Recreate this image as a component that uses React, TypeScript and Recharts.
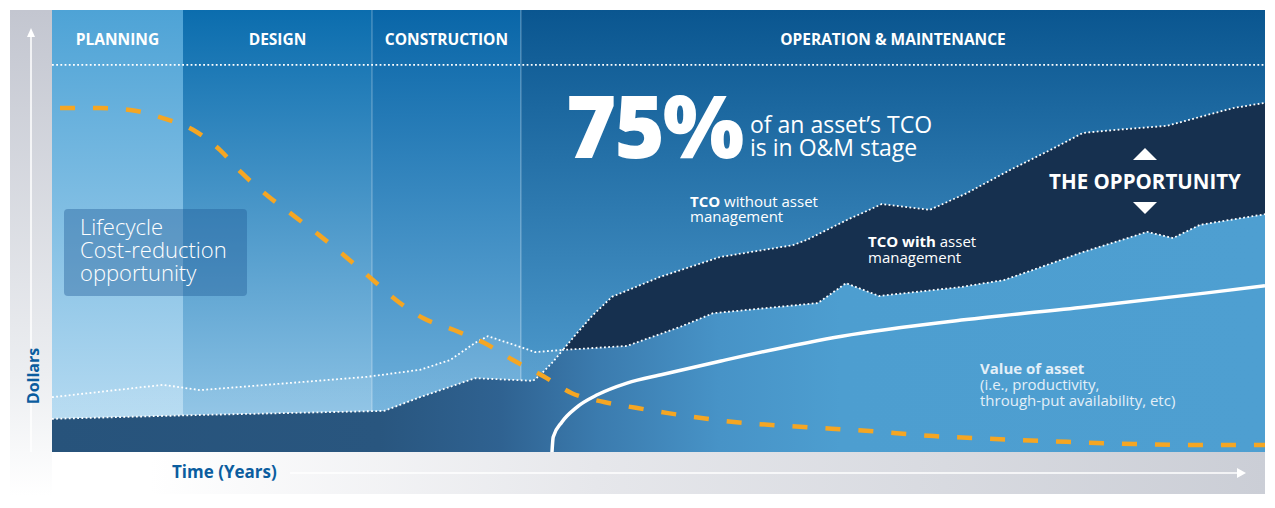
import React from "react";
import {
  ComposedChart, Area, Line, XAxis, YAxis, ReferenceArea, ReferenceLine, Label
} from "recharts";

const FONT = '"Open Sans", "Noto Sans", sans-serif';
const W = 1259;
const H = 492;

// phases along the time axis (years)
const phaseNames = ["PLANNING", "DESIGN", "CONSTRUCTION", "OPERATION & MAINTENANCE"];
const phaseStarts = [0, 5.4, 13.19, 19.33];
const phaseEnds = [5.4, 13.19, 19.33, 50];

// [years, dollars]
const lifecycleCost = [
  [0.33, 77.8], [1.98, 77.8], [3.22, 77.4], [4.53, 75.6], [5.81, 72.9], [6.93, 68.3],
  [7.79, 63.3], [8.86, 58.1], [9.93, 53.6], [11.05, 48.9], [12.08, 44.3], [13.19, 39.1],
  [14.18, 34.4], [15.29, 30.3], [16.57, 27.6], [17.81, 24.7], [19.0, 20.8], [20.24, 17.2],
  [21.43, 13.3], [22.75, 11.3], [24.07, 10.0], [25.39, 8.8], [28.11, 6.8], [30.83, 5.7],
  [33.55, 4.8], [36.36, 3.6], [39.08, 2.9], [41.84, 2.3], [44.6, 1.8], [47.32, 1.6], [50, 1.6]
];

const tcoWithout = [
  [0, 12.4], [4.58, 15.2], [6.1, 14.0], [12.98, 17.0], [15.17, 18.6], [16.41, 20.8],
  [17.44, 24.7], [17.97, 26.2], [19.29, 23.8], [19.91, 22.6], [21.06, 23.1], [21.64, 26.9],
  [22.3, 31.0], [23.08, 35.1], [25.06, 39.6], [27.53, 44.1], [30.54, 46.8], [31.12, 48.0],
  [32.77, 52.5], [34.21, 56.1], [36.19, 54.8], [37.72, 58.6], [39.49, 63.8], [41.14, 68.3],
  [42.5, 72.2], [43.9, 72.9], [45.96, 73.8], [47.32, 75.8], [48.68, 77.8], [50, 79.0]
];

const tcoWith = [
  [0, 7.5], [6.27, 8.4], [13.69, 9.3], [15.17, 12.4], [17.44, 16.7], [19.83, 16.1],
  [20.12, 17.4], [20.65, 20.4], [21.06, 23.1], [23.7, 24.0], [25.89, 28.3], [27.25, 31.4],
  [31.57, 33.7], [32.73, 38.2], [34.09, 35.3], [37.43, 37.3], [39.24, 38.9], [40.44, 41.2],
  [42.37, 45.0], [45.14, 49.8], [46.21, 48.4], [47.32, 51.4], [50, 53.8]
];

const assetValue = [
  [20.61, 0], [20.66, 3.4], [21.02, 6.8], [21.6, 10.0], [22.5, 13.0], [23.7, 15.6],
  [25.2, 17.6], [27.58, 20.6], [32.56, 26.2], [37.59, 29.9], [42.58, 32.8], [47.61, 36.0], [50, 37.6]
];

const toRows = (pts: number[][]) => pts.map(([x, y]) => ({ x, y }));

const PHASE_FILLS = ["url(#gPlan)", "url(#gDesign)", "url(#gConst)", "url(#gOM)"];
const HEADER_LINE = 87.6;
const DOTS = "1.8 2.4";

export default function App() {
  return (
    <div style={{ position: "relative", width: W, height: H, fontFamily: FONT }}>
      {/* axis strips behind the chart */}
      <svg width={W} height={H} style={{ position: "absolute", left: 0, top: 0 }}>
        <defs>
          <linearGradient id="stripL" x1="0" y1="0" x2="0" y2="1">
            <stop offset="0" stopColor="#c3c6d0" />
            <stop offset="0.75" stopColor="#eceef1" />
            <stop offset="1" stopColor="#ffffff" />
          </linearGradient>
          <linearGradient id="stripB" x1="0" y1="0" x2="1" y2="0">
            <stop offset="0" stopColor="#ffffff" />
            <stop offset="0.4" stopColor="#e6e7eb" />
            <stop offset="1" stopColor="#cbced6" />
          </linearGradient>
        </defs>
        <g transform="translate(-8,-8)">
          <rect x={10} y={10} width={42} height={486} fill="url(#stripL)" />
          <rect x={150} y={452} width={1115} height={42} fill="url(#stripB)" />
        </g>
      </svg>

      <div style={{ position: "absolute", left: 0, top: 0 }}>
        <ComposedChart width={W} height={H} margin={{ top: 2, right: 2, bottom: 48, left: 44 }}>
          <defs>
            <linearGradient id="gPlan" x1="0" y1="0" x2="0" y2="1">
              <stop offset="0" stopColor="#4ea3d6" />
              <stop offset="1" stopColor="#bcdef3" />
            </linearGradient>
            <linearGradient id="gDesign" x1="0" y1="0" x2="0" y2="1">
              <stop offset="0" stopColor="#0b6dae" />
              <stop offset="1" stopColor="#96c9e9" />
            </linearGradient>
            <linearGradient id="gConst" x1="0" y1="0" x2="0" y2="1">
              <stop offset="0" stopColor="#0966a8" />
              <stop offset="1" stopColor="#78b7e0" />
            </linearGradient>
            <linearGradient id="gOM" x1="0" y1="0" x2="0" y2="1">
              <stop offset="0" stopColor="#0a5690" />
              <stop offset="1" stopColor="#5aa6d7" />
            </linearGradient>
            <linearGradient id="gUpper" x1="0" y1="0" x2="1" y2="0">
              <stop offset="0" stopColor="#ffffff" stopOpacity={0.07} />
              <stop offset="0.421" stopColor="#ffffff" stopOpacity={0.07} />
              <stop offset="0.421" stopColor="#16304f" stopOpacity={1} />
              <stop offset="1" stopColor="#16304f" stopOpacity={1} />
            </linearGradient>
            <linearGradient id="gLower" x1="0" y1="0" x2="1" y2="0">
              <stop offset="0" stopColor="#27537b" />
              <stop offset="0.27" stopColor="#29567f" />
              <stop offset="0.37" stopColor="#2f6291" />
              <stop offset="0.45" stopColor="#3b7bae" />
              <stop offset="0.55" stopColor="#4793c7" />
              <stop offset="0.65" stopColor="#4d9ed0" />
              <stop offset="1" stopColor="#4e9fd1" />
            </linearGradient>
          </defs>
          <XAxis type="number" dataKey="x" domain={[0, 50]} hide allowDataOverflow />
          <YAxis type="number" dataKey="y" domain={[0, 100]} hide allowDataOverflow />

          {phaseNames.map((name, i) => (
            <ReferenceArea
              key={name}
              x1={phaseStarts[i]}
              x2={phaseEnds[i]}
              fill={PHASE_FILLS[i]}
              fillOpacity={1}
              stroke="none"
              ifOverflow="extendDomain"
              zIndex={-20}
            >
              <Label
                value={name}
                position="insideTop"
                offset={24}
                fill="#ffffff"
                fontSize={15.5}
                fontWeight={700}
                fontFamily={FONT}
              />
            </ReferenceArea>
          ))}
          {phaseStarts.slice(2).map((s) => (
            <ReferenceLine key={s} x={s} stroke="#ffffff" strokeOpacity={0.35} zIndex={-10} />
          ))}
          <ReferenceLine y={HEADER_LINE} stroke="#ffffff" strokeWidth={1.8} strokeDasharray={DOTS} zIndex={-10} />

          <Area
            data={toRows(tcoWithout)}
            dataKey="y"
            type="linear"
            stroke="#ffffff"
            strokeWidth={1.8}
            strokeDasharray={DOTS}
            fill="url(#gUpper)"
            fillOpacity={1}
            isAnimationActive={false}
          />
          <Area
            data={toRows(tcoWith)}
            dataKey="y"
            type="linear"
            stroke="#ffffff"
            strokeWidth={1.8}
            strokeDasharray={DOTS}
            fill="url(#gLower)"
            fillOpacity={1}
            isAnimationActive={false}
          />
          <Line
            data={toRows(assetValue)}
            dataKey="y"
            type="monotone"
            stroke="#ffffff"
            strokeWidth={3.5}
            dot={false}
            isAnimationActive={false}
          />
          <Line
            data={toRows(lifecycleCost)}
            dataKey="y"
            type="monotone"
            stroke="#f5a623"
            strokeWidth={4.5}
            strokeDasharray="15 18"
            dot={false}
            isAnimationActive={false}
          />
        </ComposedChart>
      </div>

      {/* annotations */}
      <svg width={W} height={H} style={{ position: "absolute", left: 0, top: 0, pointerEvents: "none" }}>
        <g transform="translate(-8,-8)" fontFamily={FONT}>
          {/* axes arrows */}
          <line x1={31} y1={36} x2={31} y2={452} stroke="#ffffff" strokeWidth={1.5} />
          <polygon points="31,28 27,37 35,37" fill="#ffffff" />
          <line x1={290} y1={473} x2={1238} y2={473} stroke="#ffffff" strokeWidth={1.5} />
          <polygon points="1246,473 1237,468 1237,478" fill="#ffffff" />
          <text x={0} y={0} transform="translate(39,376) rotate(-90)" textAnchor="middle" fontSize={16} fontWeight={700} fill="#0b5d9f">Dollars</text>
          <text x={172} y={478} fontSize={17} fontWeight={700} fill="#0b5d9f">Time (Years)</text>

          {/* lifecycle box */}
          <rect x={64} y={209} width={183} height={87} rx={4} fill="#1e5a96" fillOpacity={0.4} />
          <text x={80} y={235} fontSize={22} fontWeight={300} fill="#ffffff">Lifecycle</text>
          <text x={80} y={258} fontSize={22} fontWeight={300} fill="#ffffff">Cost-reduction</text>
          <text x={80} y={281} fontSize={22} fontWeight={300} fill="#ffffff">opportunity</text>

          {/* 75% headline */}
          <text x={566} y={158} fontSize={86} fontWeight={800} fill="#ffffff" letterSpacing={-2}>75%</text>
          <text x={750} y={133} fontSize={23} fill="#ffffff">of an asset’s TCO</text>
          <text x={750} y={156} fontSize={23} fill="#ffffff">is in O&amp;M stage</text>

          {/* series notes */}
          <text x={690} y={207} fontSize={15} fill="#ffffff"><tspan fontWeight={700}>TCO</tspan> without asset</text>
          <text x={690} y={222} fontSize={15} fill="#ffffff">management</text>
          <text x={868} y={247} fontSize={15} fill="#ffffff"><tspan fontWeight={700}>TCO with</tspan> asset</text>
          <text x={868} y={263} fontSize={15} fill="#ffffff">management</text>

          <polygon points="1145,148 1133,160 1157,160" fill="#ffffff" />
          <text x={1145} y={189} textAnchor="middle" fontSize={20.5} fontWeight={700} fill="#ffffff">THE OPPORTUNITY</text>
          <polygon points="1133,202 1157,202 1145,214" fill="#ffffff" />

          <text x={980} y={374} fontSize={15} fontWeight={700} fill="#e3eff8">Value of asset</text>
          <text x={980} y={390} fontSize={15} fill="#e3eff8">(i.e., productivity,</text>
          <text x={980} y={406} fontSize={15} fill="#e3eff8">through-put availability, etc)</text>
        </g>
      </svg>
    </div>
  );
}
